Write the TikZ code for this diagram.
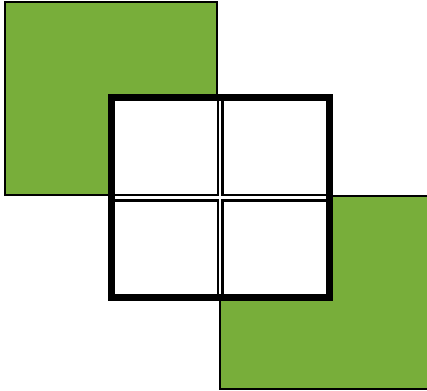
\documentclass[tikz,border=0pt]{standalone}
\definecolor{leaf}{RGB}{120,174,58}
\begin{document}
\begin{tikzpicture}[x=1pt,y=-1pt,
  greensq/.style={fill=leaf,draw=black,line width=2pt},
  cell/.style={draw=black,line width=2.5pt},
  frame/.style={draw=black,line width=7pt}]
\useasboundingbox (0,0) rectangle (427,390);
\path[greensq] (5,2.5) rectangle (216.5,195) coordinate (g1);
\path[greensq] (219.5,195.5) rectangle (430,388.5) coordinate (g2);
\path[fill=white] (111.5,98) rectangle (329,297);
\path[cell] (111.5,98) rectangle (217.9,195.2);
\path[cell] (222.3,98) rectangle (329,195.2);
\path[cell] (111.5,200.4) rectangle (217.9,297);
\path[cell] (222.3,200.4) rectangle (329,297);
\path[frame] (111.5,98) rectangle (329,297);
\end{tikzpicture}
\end{document}
